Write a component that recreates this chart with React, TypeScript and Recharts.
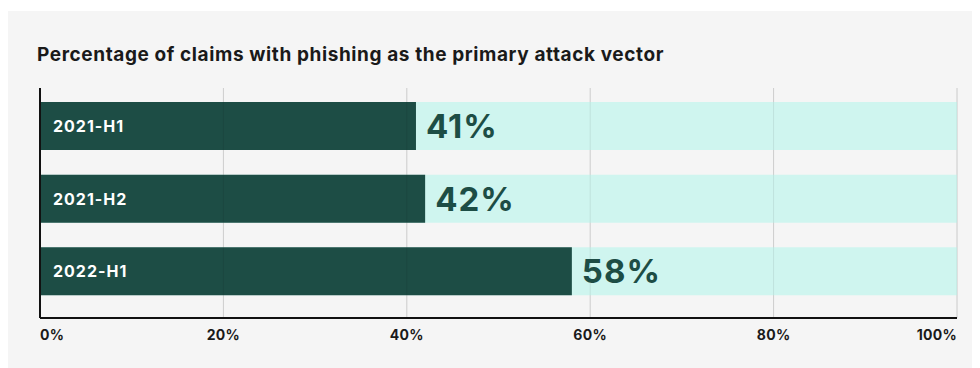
import { Bar, BarChart, CartesianGrid, LabelList, ReferenceLine, XAxis, YAxis } from "recharts";

const PERIODS = ["2021-H1", "2021-H2", "2022-H1"];
const SHARE = [41, 42, 58];
const TICKS = [0, 20, 40, 60, 80, 100];

const DARK = "#1d4d45";
const TEAL = "#cff5ef";
const PANEL = "#f5f5f5";
const INK = "#1a1a1a";
const FONT = "Inter, 'Noto Sans', sans-serif";

const data = PERIODS.map((p, i) => ({ period: p, value: SHARE[i] }));

function Tick(props: any) {
  const { x, y, payload } = props;
  const v = payload.value;
  const anchor = v === 0 ? "start" : v === 100 ? "end" : "middle";
  return (
    <text x={x} y={y + 14} textAnchor={anchor} fontSize={14} fontWeight={700} fill={INK} fontFamily={FONT} letterSpacing={0.3}>
      {`${v}%`}
    </text>
  );
}

function InsideName(props: any) {
  const { x, y, height, value } = props;
  return (
    <text x={x + 13} y={y + height / 2} dy={6} fontSize={16} fontWeight={700} fill="#fff" fontFamily={FONT} letterSpacing={1}>
      {value}
    </text>
  );
}

function ValueLabel(props: any) {
  const { x, y, width, height, value } = props;
  return (
    <text x={x + width + 10} y={y + height / 2} dy={12} fontSize={33} fontWeight={700} fill={DARK} fontFamily={FONT} letterSpacing={1}>
      {`${value}%`}
    </text>
  );
}

export default function App() {
  return (
    <div style={{ marginTop: 3, width: 972, height: 357, background: PANEL, position: "relative", fontFamily: FONT }}>
      <div style={{ position: "absolute", left: 29, top: 32, fontSize: 19, fontWeight: 700, color: INK, letterSpacing: 0.6 }}>
        Percentage of claims with phishing as the primary attack vector
      </div>
      <BarChart
        width={972}
        height={357}
        data={data}
        layout="vertical"
        margin={{ top: 77, right: 23, left: 32, bottom: 20 }}
        barCategoryGap={0}
      >
        <CartesianGrid horizontal={false} stroke="#dedede" />
        <XAxis
          type="number"
          domain={[0, 100]}
          ticks={TICKS}
          tick={<Tick />}
          tickLine={false}
          axisLine={{ stroke: "#111", strokeWidth: 2 }}
          height={30}
        />
        <YAxis
          type="category"
          dataKey="period"
          width={0}
          tick={false}
          tickLine={false}
          axisLine={false}
          padding={{ top: 2, bottom: 10 }}
        />
        <Bar dataKey="value" fill={DARK} barSize={48} background={{ fill: TEAL }} isAnimationActive={false}>
          <LabelList dataKey="period" content={<InsideName />} />
          <LabelList dataKey="value" content={<ValueLabel />} />
        </Bar>
        {TICKS.slice(1).map((t) => (
          <ReferenceLine key={t} x={t} stroke="rgba(0,0,0,0.08)" />
        ))}
        <ReferenceLine x={0} stroke="#111" strokeWidth={2} />
      </BarChart>
    </div>
  );
}
